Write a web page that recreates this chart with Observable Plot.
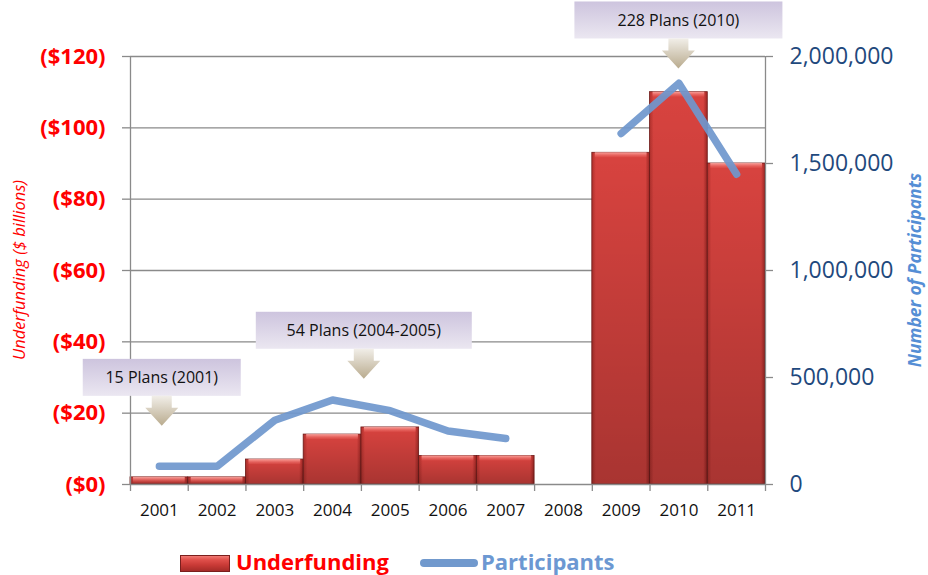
<!DOCTYPE html>
<html>
<head>
<meta charset="utf-8">
<script src="https://cdn.jsdelivr.net/npm/d3@7"></script>
<script src="https://cdn.jsdelivr.net/npm/@observablehq/plot@0.6"></script>
<style>
  html, body { margin: 0; padding: 0; background: #fff; }
  #wrap { position: relative; width: 928px; height: 575px; font-family: "Open Sans", sans-serif; overflow: hidden; }
  #wrap svg { position: absolute; left: 0; top: 0; overflow: visible; }
  .legend { position: absolute; top: 547px; left: 0; width: 928px; height: 28px; }
  .legend .sw { position: absolute; left: 180px; top: 8px; width: 50px; height: 17px; box-sizing: border-box;
    background: linear-gradient(180deg, #f07a74 0%, #e0504b 25%, #c93a36 60%, #a52b28 100%); border: 1px solid #7a1f1d; }
  .legend .ln { position: absolute; left: 420px; top: 12px; width: 58px; height: 8px; border-radius: 4px; background: #7199cd; }
  .legend .t { position: absolute; top: 0; font-weight: 700; font-size: 22px; line-height: 28px; }
</style>
</head>
<body>
<div id="wrap"></div>
<script>
// ---- data ----
const years = [2001, 2002, 2003, 2004, 2005, 2006, 2007, 2008, 2009, 2010, 2011];
const underfunding = [2, 2, 7, 14, 16, 8, 8, null, 93, 110, 90];            // $ billions
const participants = [85000, 85000, 300000, 395000, 345000, 250000, 215000, null, 1640000, 1875000, 1450000];
const leftTicks = [0, 20, 40, 60, 80, 100, 120];
const rightTicks = [0, 500000, 1000000, 1500000, 2000000];
const calloutText = ["15 Plans (2001)", "54 Plans (2004-2005)", "228 Plans (2010)"];
const calloutYear = [2001.05, 2004.55, 2010];
const calloutValue = [16.3, 29.5, 116.5];   // where each arrow points ($ billions scale)
const leftTitle = "Underfunding ($ billions)";
const rightTitle = "Number of Participants";

const U_MAX = 120, P_MAX = 2000000;
const toLeft = p => (p == null ? NaN : p * U_MAX / P_MAX);
const rows = years.map((year, i) => ({year, u: underfunding[i], p: participants[i]}));
const bars = rows.filter(d => d.u != null);
const boundaries = years.map(y => y - 0.5).concat([years[years.length - 1] + 0.5]);
const GRID = "#8a8a8a";

const plot = Plot.plot({
  width: 928, height: 535,
  marginLeft: 130, marginRight: 163, marginTop: 56, marginBottom: 51,
  style: {fontFamily: "'Open Sans', sans-serif", background: "transparent", overflow: "visible"},
  x: {type: "linear", domain: [boundaries[0], boundaries[boundaries.length - 1]], label: null},
  y: {domain: [0, U_MAX], label: null},
  marks: [
    Plot.ruleY(leftTicks.filter(d => d > 0), {stroke: GRID, strokeWidth: 1.3}),
    Plot.rect(bars, {x1: d => d.year - 0.5, x2: d => d.year + 0.5, y1: 0, y2: "u", fill: "url(#barH)", stroke: "#6e1a18", strokeWidth: 0.8}),
    Plot.rect(bars, {x1: d => d.year - 0.5, x2: d => d.year + 0.5, y1: 0, y2: "u", fill: "url(#barV)"}),
    Plot.rect(bars, {x1: d => d.year - 0.5, x2: d => d.year + 0.5, y1: "u", y2: "u", insetBottom: -5, insetLeft: 3, insetRight: 3, fill: "url(#barTop)"}),
    Plot.ruleX([boundaries[0], boundaries[boundaries.length - 1]], {stroke: GRID, strokeWidth: 1.3}),
    Plot.ruleY([0], {stroke: GRID, strokeWidth: 1.3}),
    Plot.axisX({ticks: boundaries, tickSize: 7, tickFormat: () => "", stroke: GRID, strokeWidth: 1.3, label: null}),
    Plot.axisX({ticks: years, tickSize: 0, tickPadding: 19, tickFormat: d => String(d), fontSize: 17, fill: "#111", label: null}),
    Plot.axisY({ticks: leftTicks, anchor: "left", tickSize: 8, tickPadding: 17, tickFormat: d => `($${d})`,
      fill: "#ff0000", fontSize: 22, fontWeight: "bold", stroke: GRID, strokeWidth: 1.3, label: null}),
    Plot.axisY({ticks: rightTicks.map(toLeft), anchor: "right", tickSize: 7, tickPadding: 17,
      tickFormat: d => d3.format(",")(Math.round(d * P_MAX / U_MAX)),
      fill: "#1f497d", fontSize: 23, stroke: GRID, strokeWidth: 1.3, label: null}),
    Plot.line(rows, {x: "year", y: d => toLeft(d.p), stroke: "#6f97cd", strokeOpacity: 0.92, strokeWidth: 7.5,
      strokeLinecap: "round", strokeLinejoin: "round"})
  ]
});

document.getElementById("wrap").appendChild(plot);

// ---- gradients, callouts and axis titles ----
const svg = d3.select(plot);
const defs = svg.insert("defs", ":first-child");
function grad(id, x2, y2, stops) {
  const g = defs.append("linearGradient").attr("id", id).attr("x1", 0).attr("y1", 0).attr("x2", x2).attr("y2", y2);
  stops.forEach(([o, c, a]) => g.append("stop").attr("offset", o).attr("stop-color", c).attr("stop-opacity", a == null ? 1 : a));
}
grad("barH", 1, 0, [["0%", "#b0302c"], ["7%", "#d8433f"], ["93%", "#d8433f"], ["100%", "#9e2724"]]);
grad("barV", 0, 1, [["0%", "#000", 0], ["100%", "#000", 0.22]]);
grad("barTop", 0, 1, [["0%", "#ffb0aa", 0.9], ["100%", "#f06a64", 0.2]]);
grad("lav", 0, 1, [["0%", "#cdc4de"], ["100%", "#ebe7f1"]]);
grad("arrow", 0, 1, [["0%", "#f1eee8"], ["100%", "#b9ab8e"]]);

const xsc = plot.scale("x"), ysc = plot.scale("y");
const X = d3.scaleLinear(xsc.domain, xsc.range);
const Y = d3.scaleLinear(ysc.domain, ysc.range);
const boxW = [158, 216, 208];
const ann = svg.append("g");
calloutText.forEach((t, i) => {
  const cx = X(calloutYear[i]);
  const tip = Y(calloutValue[i]);
  const bottom = tip - 30, top = bottom - 37;
  ann.append("rect").attr("x", cx - boxW[i] / 2).attr("y", top).attr("width", boxW[i]).attr("height", 37)
    .attr("fill", "url(#lav)");
  ann.append("path")
    .attr("d", `M${cx - 10},${bottom}H${cx + 10}V${bottom + 12}H${cx + 16.5}L${cx},${tip}L${cx - 16.5},${bottom + 12}H${cx - 10}Z`)
    .attr("fill", "url(#arrow)");
  ann.append("text").attr("x", cx).attr("y", top + 18.5).attr("text-anchor", "middle").attr("dominant-baseline", "central")
    .attr("font-size", 16).attr("fill", "#111").text(t);
});
svg.append("text").attr("transform", "translate(18,270) rotate(-90)").attr("text-anchor", "middle")
  .attr("dominant-baseline", "central").attr("font-size", 16.5).attr("font-style", "italic").attr("fill", "#ff0000").text(leftTitle);
svg.append("text").attr("transform", "translate(914,270) rotate(-90)").attr("text-anchor", "middle")
  .attr("dominant-baseline", "central").attr("font-size", 17.5).attr("font-style", "italic").attr("font-weight", "bold")
  .attr("fill", "#558ed5").text(rightTitle);

// ---- legend below the chart ----
const leg = d3.select("#wrap").append("div").attr("class", "legend");
leg.append("div").attr("class", "sw");
leg.append("div").attr("class", "t").style("left", "236px").style("color", "#ff0000").text("Underfunding");
leg.append("div").attr("class", "ln");
leg.append("div").attr("class", "t").style("left", "481px").style("color", "#6c98d2").text("Participants");
</script>
</body>
</html>
